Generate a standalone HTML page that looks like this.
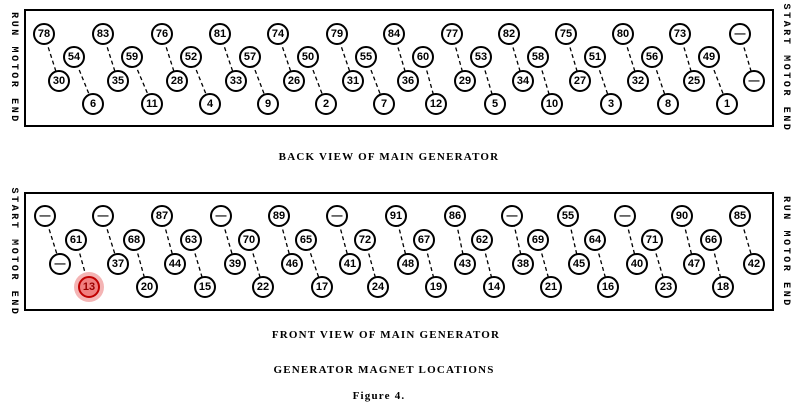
<!DOCTYPE html>
<html><head><style>
html,body{margin:0;padding:0;background:#fff;}
svg{display:block;}
.c{fill:#fff;stroke:#000;stroke-width:2;}
.l{stroke:#000;stroke-width:1.3;stroke-dasharray:4,3;}
.n{font-family:"Liberation Sans",sans-serif;font-size:11px;font-weight:bold;text-anchor:middle;dominant-baseline:central;}
.t{font-family:"Liberation Serif",serif;font-size:11px;font-weight:bold;letter-spacing:1.2px;text-anchor:middle;}
.s{font-family:"Liberation Mono",monospace;font-size:10px;font-weight:bold;letter-spacing:2.6px;text-anchor:middle;}
</style></head><body>
<svg width="800" height="409" viewBox="0 0 800 409" xmlns="http://www.w3.org/2000/svg">
<rect x="25" y="10" width="748" height="116" fill="none" stroke="#000" stroke-width="2"/>
<rect x="25" y="193" width="748" height="117" fill="none" stroke="#000" stroke-width="2"/>
<text class="s" transform="translate(12,68) rotate(90)">RUN MOTOR END</text>
<text class="s" transform="translate(784,68) rotate(90)">START MOTOR END</text>
<text class="s" transform="translate(12,252) rotate(90)">START MOTOR END</text>
<text class="s" transform="translate(784,252) rotate(90)">RUN MOTOR END</text>
<text class="t" x="389" y="160">BACK VIEW OF MAIN GENERATOR</text>
<text class="t" x="386" y="338">FRONT VIEW OF MAIN GENERATOR</text>
<text class="t" x="384" y="373">GENERATOR MAGNET LOCATIONS</text>
<text class="t" x="379" y="399">Figure 4.</text>
<g class="l">
<line x1="44" y1="34" x2="59" y2="81"/><line x1="103" y1="34" x2="118" y2="81"/><line x1="162" y1="34" x2="177" y2="81"/><line x1="220" y1="34" x2="236" y2="81"/><line x1="278" y1="34" x2="294" y2="81"/><line x1="337" y1="34" x2="353" y2="81"/><line x1="394" y1="34" x2="408" y2="81"/><line x1="452" y1="34" x2="465" y2="81"/><line x1="509" y1="34" x2="523" y2="81"/><line x1="566" y1="34" x2="580" y2="81"/><line x1="623" y1="34" x2="638" y2="81"/><line x1="680" y1="34" x2="694" y2="81"/><line x1="740" y1="34" x2="754" y2="81"/>
<line x1="74" y1="57" x2="93" y2="104"/><line x1="132" y1="57" x2="152" y2="104"/><line x1="191" y1="57" x2="210" y2="104"/><line x1="250" y1="57" x2="268" y2="104"/><line x1="308" y1="57" x2="326" y2="104"/><line x1="366" y1="57" x2="384" y2="104"/><line x1="423" y1="57" x2="436" y2="104"/><line x1="481" y1="57" x2="495" y2="104"/><line x1="538" y1="57" x2="552" y2="104"/><line x1="595" y1="57" x2="611" y2="104"/><line x1="652" y1="57" x2="668" y2="104"/><line x1="709" y1="57" x2="727" y2="104"/>
</g>
<g class="l">
<line x1="45" y1="216" x2="60" y2="264"/><line x1="103" y1="216" x2="118" y2="264"/><line x1="162" y1="216" x2="175" y2="264"/><line x1="221" y1="216" x2="235" y2="264"/><line x1="279" y1="216" x2="292" y2="264"/><line x1="337" y1="216" x2="350" y2="264"/><line x1="396" y1="216" x2="408" y2="264"/><line x1="455" y1="216" x2="465" y2="264"/><line x1="512" y1="216" x2="523" y2="264"/><line x1="568" y1="216" x2="579" y2="264"/><line x1="625" y1="216" x2="637" y2="264"/><line x1="682" y1="216" x2="694" y2="264"/><line x1="740" y1="216" x2="754" y2="264"/>
<line x1="76" y1="240" x2="89" y2="287"/><line x1="134" y1="240" x2="147" y2="287"/><line x1="191" y1="240" x2="205" y2="287"/><line x1="249" y1="240" x2="263" y2="287"/><line x1="306" y1="240" x2="322" y2="287"/><line x1="365" y1="240" x2="378" y2="287"/><line x1="424" y1="240" x2="436" y2="287"/><line x1="482" y1="240" x2="494" y2="287"/><line x1="538" y1="240" x2="551" y2="287"/><line x1="595" y1="240" x2="608" y2="287"/><line x1="652" y1="240" x2="666" y2="287"/><line x1="711" y1="240" x2="723" y2="287"/>
</g>
<circle cx="89" cy="287" r="15" fill="#f4b4b4"/>
<g class="c">
<circle cx="44" cy="34" r="10"/><circle cx="103" cy="34" r="10"/><circle cx="162" cy="34" r="10"/><circle cx="220" cy="34" r="10"/><circle cx="278" cy="34" r="10"/><circle cx="337" cy="34" r="10"/><circle cx="394" cy="34" r="10"/><circle cx="452" cy="34" r="10"/><circle cx="509" cy="34" r="10"/><circle cx="566" cy="34" r="10"/><circle cx="623" cy="34" r="10"/><circle cx="680" cy="34" r="10"/><circle cx="740" cy="34" r="10"/>
<circle cx="74" cy="57" r="10"/><circle cx="132" cy="57" r="10"/><circle cx="191" cy="57" r="10"/><circle cx="250" cy="57" r="10"/><circle cx="308" cy="57" r="10"/><circle cx="366" cy="57" r="10"/><circle cx="423" cy="57" r="10"/><circle cx="481" cy="57" r="10"/><circle cx="538" cy="57" r="10"/><circle cx="595" cy="57" r="10"/><circle cx="652" cy="57" r="10"/><circle cx="709" cy="57" r="10"/>
<circle cx="59" cy="81" r="10"/><circle cx="118" cy="81" r="10"/><circle cx="177" cy="81" r="10"/><circle cx="236" cy="81" r="10"/><circle cx="294" cy="81" r="10"/><circle cx="353" cy="81" r="10"/><circle cx="408" cy="81" r="10"/><circle cx="465" cy="81" r="10"/><circle cx="523" cy="81" r="10"/><circle cx="580" cy="81" r="10"/><circle cx="638" cy="81" r="10"/><circle cx="694" cy="81" r="10"/><circle cx="754" cy="81" r="10"/>
<circle cx="93" cy="104" r="10"/><circle cx="152" cy="104" r="10"/><circle cx="210" cy="104" r="10"/><circle cx="268" cy="104" r="10"/><circle cx="326" cy="104" r="10"/><circle cx="384" cy="104" r="10"/><circle cx="436" cy="104" r="10"/><circle cx="495" cy="104" r="10"/><circle cx="552" cy="104" r="10"/><circle cx="611" cy="104" r="10"/><circle cx="668" cy="104" r="10"/><circle cx="727" cy="104" r="10"/>
<circle cx="45" cy="216" r="10"/><circle cx="103" cy="216" r="10"/><circle cx="162" cy="216" r="10"/><circle cx="221" cy="216" r="10"/><circle cx="279" cy="216" r="10"/><circle cx="337" cy="216" r="10"/><circle cx="396" cy="216" r="10"/><circle cx="455" cy="216" r="10"/><circle cx="512" cy="216" r="10"/><circle cx="568" cy="216" r="10"/><circle cx="625" cy="216" r="10"/><circle cx="682" cy="216" r="10"/><circle cx="740" cy="216" r="10"/>
<circle cx="76" cy="240" r="10"/><circle cx="134" cy="240" r="10"/><circle cx="191" cy="240" r="10"/><circle cx="249" cy="240" r="10"/><circle cx="306" cy="240" r="10"/><circle cx="365" cy="240" r="10"/><circle cx="424" cy="240" r="10"/><circle cx="482" cy="240" r="10"/><circle cx="538" cy="240" r="10"/><circle cx="595" cy="240" r="10"/><circle cx="652" cy="240" r="10"/><circle cx="711" cy="240" r="10"/>
<circle cx="60" cy="264" r="10"/><circle cx="118" cy="264" r="10"/><circle cx="175" cy="264" r="10"/><circle cx="235" cy="264" r="10"/><circle cx="292" cy="264" r="10"/><circle cx="350" cy="264" r="10"/><circle cx="408" cy="264" r="10"/><circle cx="465" cy="264" r="10"/><circle cx="523" cy="264" r="10"/><circle cx="579" cy="264" r="10"/><circle cx="637" cy="264" r="10"/><circle cx="694" cy="264" r="10"/><circle cx="754" cy="264" r="10"/>
<circle cx="89" cy="287" r="10" style="fill:#f08080;stroke:#c00000"/><circle cx="147" cy="287" r="10"/><circle cx="205" cy="287" r="10"/><circle cx="263" cy="287" r="10"/><circle cx="322" cy="287" r="10"/><circle cx="378" cy="287" r="10"/><circle cx="436" cy="287" r="10"/><circle cx="494" cy="287" r="10"/><circle cx="551" cy="287" r="10"/><circle cx="608" cy="287" r="10"/><circle cx="666" cy="287" r="10"/><circle cx="723" cy="287" r="10"/>
</g>
<g class="n">
<text x="44" y="34">78</text><text x="103" y="34">83</text><text x="162" y="34">76</text><text x="220" y="34">81</text><text x="278" y="34">74</text><text x="337" y="34">79</text><text x="394" y="34">84</text><text x="452" y="34">77</text><text x="509" y="34">82</text><text x="566" y="34">75</text><text x="623" y="34">80</text><text x="680" y="34">73</text><text x="740" y="34">—</text>
<text x="74" y="57">54</text><text x="132" y="57">59</text><text x="191" y="57">52</text><text x="250" y="57">57</text><text x="308" y="57">50</text><text x="366" y="57">55</text><text x="423" y="57">60</text><text x="481" y="57">53</text><text x="538" y="57">58</text><text x="595" y="57">51</text><text x="652" y="57">56</text><text x="709" y="57">49</text>
<text x="59" y="81">30</text><text x="118" y="81">35</text><text x="177" y="81">28</text><text x="236" y="81">33</text><text x="294" y="81">26</text><text x="353" y="81">31</text><text x="408" y="81">36</text><text x="465" y="81">29</text><text x="523" y="81">34</text><text x="580" y="81">27</text><text x="638" y="81">32</text><text x="694" y="81">25</text><text x="754" y="81">—</text>
<text x="93" y="104">6</text><text x="152" y="104">11</text><text x="210" y="104">4</text><text x="268" y="104">9</text><text x="326" y="104">2</text><text x="384" y="104">7</text><text x="436" y="104">12</text><text x="495" y="104">5</text><text x="552" y="104">10</text><text x="611" y="104">3</text><text x="668" y="104">8</text><text x="727" y="104">1</text>
<text x="45" y="216">—</text><text x="103" y="216">—</text><text x="162" y="216">87</text><text x="221" y="216">—</text><text x="279" y="216">89</text><text x="337" y="216">—</text><text x="396" y="216">91</text><text x="455" y="216">86</text><text x="512" y="216">—</text><text x="568" y="216">55</text><text x="625" y="216">—</text><text x="682" y="216">90</text><text x="740" y="216">85</text>
<text x="76" y="240">61</text><text x="134" y="240">68</text><text x="191" y="240">63</text><text x="249" y="240">70</text><text x="306" y="240">65</text><text x="365" y="240">72</text><text x="424" y="240">67</text><text x="482" y="240">62</text><text x="538" y="240">69</text><text x="595" y="240">64</text><text x="652" y="240">71</text><text x="711" y="240">66</text>
<text x="60" y="264">—</text><text x="118" y="264">37</text><text x="175" y="264">44</text><text x="235" y="264">39</text><text x="292" y="264">46</text><text x="350" y="264">41</text><text x="408" y="264">48</text><text x="465" y="264">43</text><text x="523" y="264">38</text><text x="579" y="264">45</text><text x="637" y="264">40</text><text x="694" y="264">47</text><text x="754" y="264">42</text>
<text x="89" y="287" fill="#900">13</text><text x="147" y="287">20</text><text x="205" y="287">15</text><text x="263" y="287">22</text><text x="322" y="287">17</text><text x="378" y="287">24</text><text x="436" y="287">19</text><text x="494" y="287">14</text><text x="551" y="287">21</text><text x="608" y="287">16</text><text x="666" y="287">23</text><text x="723" y="287">18</text>
</g>
</svg>
</body></html>
